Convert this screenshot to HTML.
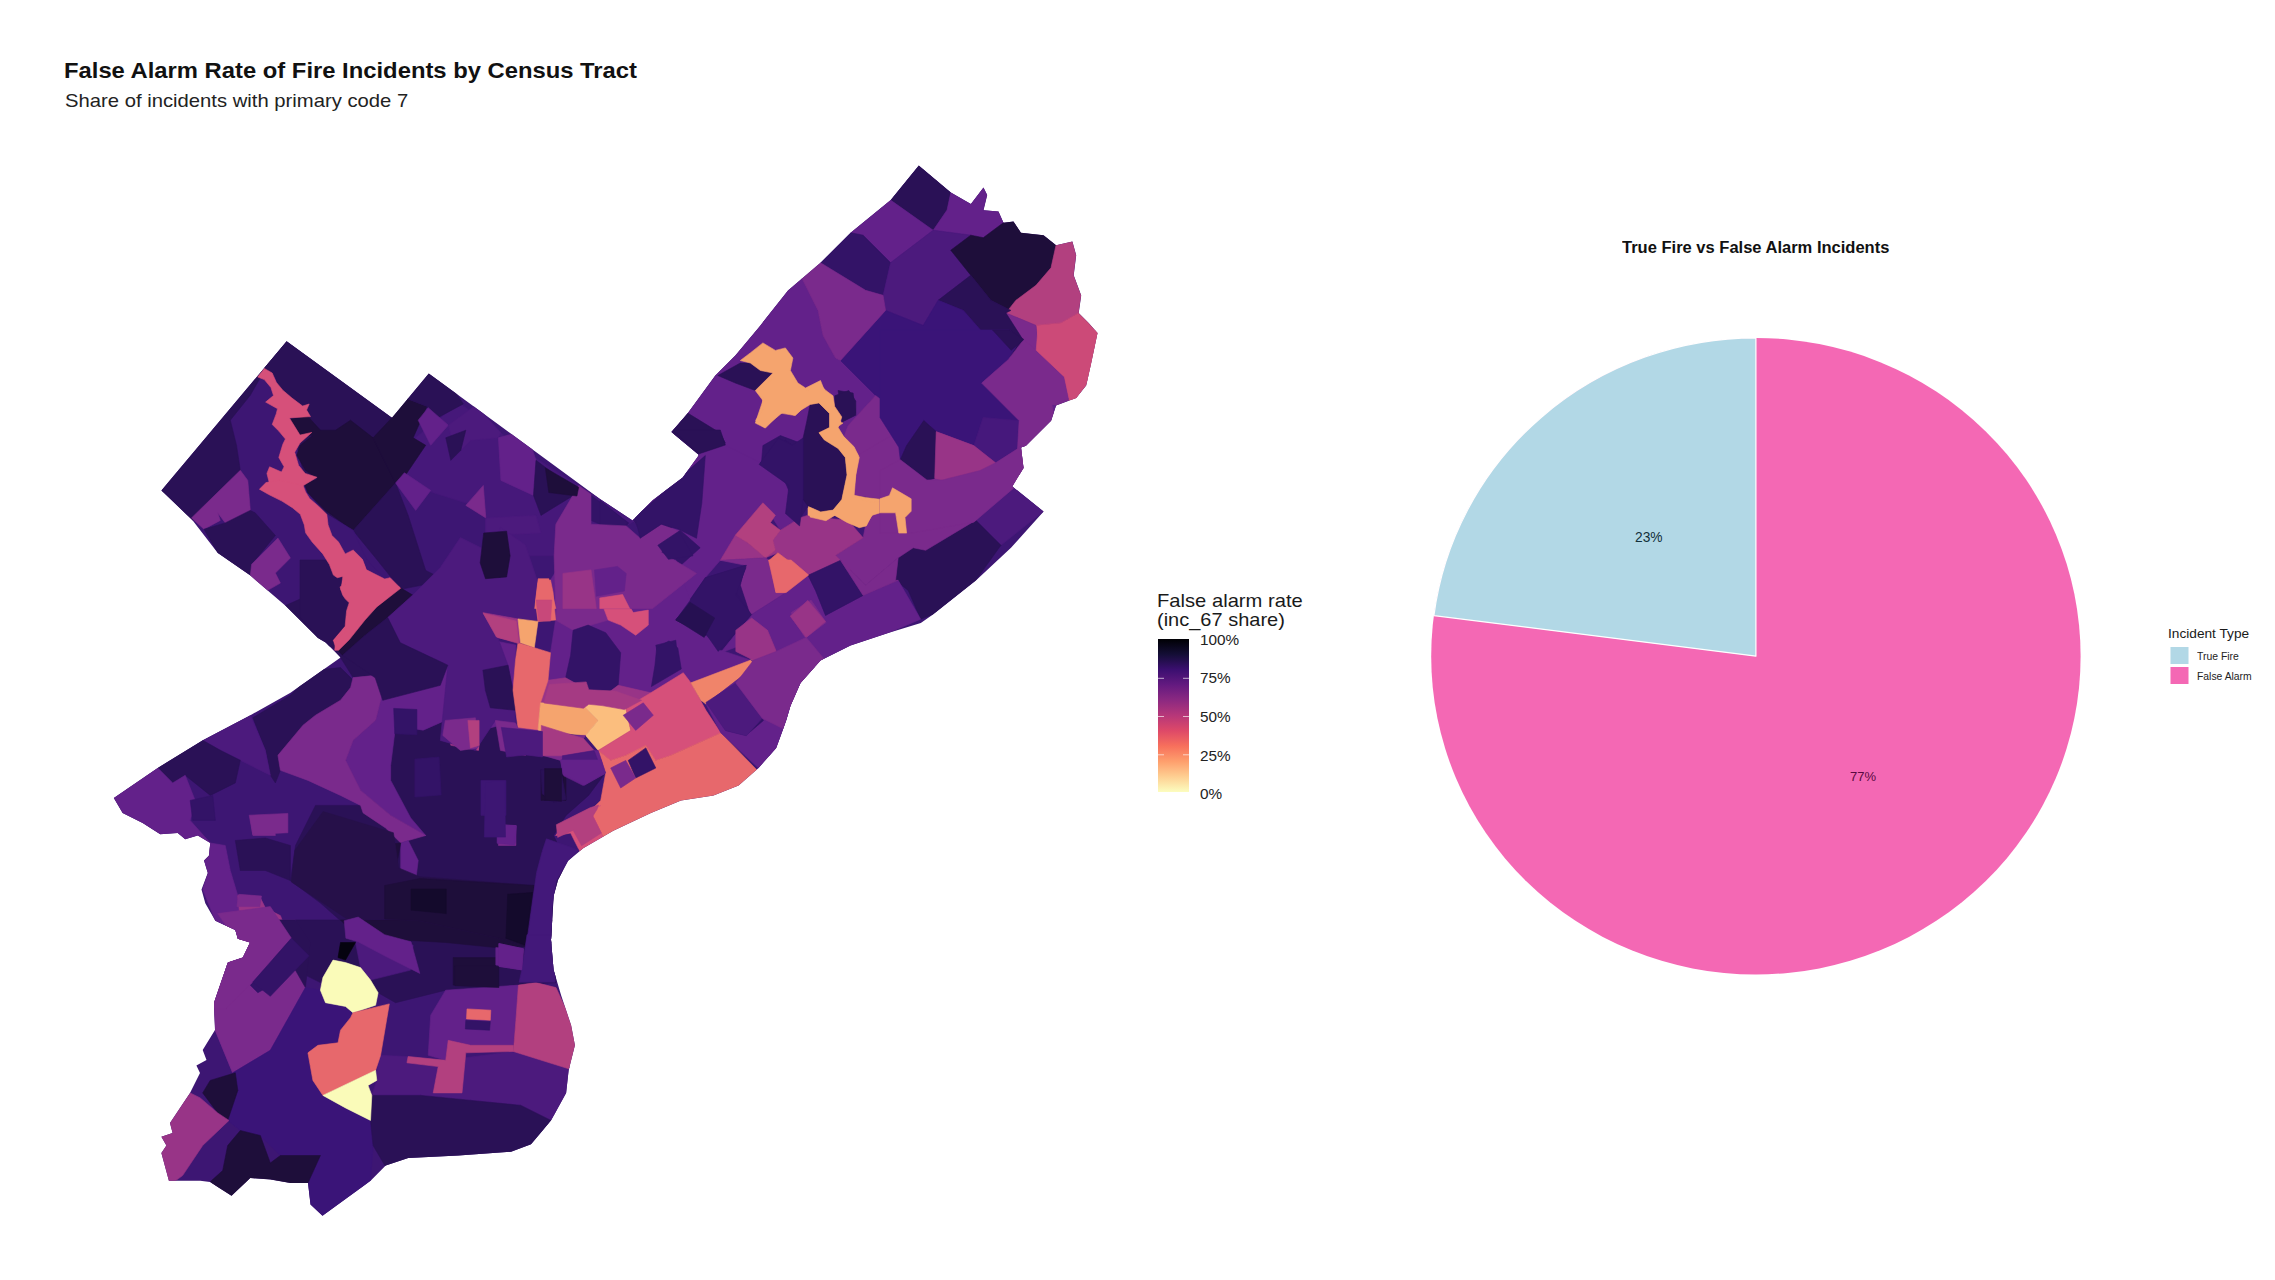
<!DOCTYPE html>
<html lang="en"><head><meta charset="utf-8"><title>False Alarm Rate of Fire Incidents by Census Tract</title>
<style>
html,body{margin:0;padding:0;background:#fff}
body{width:2275px;height:1280px;position:relative;overflow:hidden;font-family:"Liberation Sans",Arial,Helvetica,sans-serif;color:#1a1a1a}
.t{position:absolute;white-space:nowrap;line-height:1;transform-origin:0 0}
</style></head><body>
<svg width="2275" height="1280" viewBox="0 0 2275 1280" style="position:absolute;left:0;top:0">
<defs><clipPath id="city"><polygon points="286.7,341.3 392.0,417.7 428.8,373.4 600.0,499.0 632.6,520.5 652.6,500.2 682.7,477.6 699.0,455.0 671.4,432.0 687.7,413.2 715.3,375.6 735.3,355.5 760.4,325.4 788.0,290.4 820.5,262.8 850.6,232.7 890.7,200.0 918.8,165.5 950.9,192.6 970.9,203.9 983.5,187.6 987.2,195.1 983.5,210.2 998.5,211.4 1003.5,222.7 1013.5,221.4 1021.0,232.7 1043.6,235.2 1056.1,245.2 1072.4,241.5 1076.2,255.3 1073.7,275.3 1081.2,295.4 1078.7,312.9 1088.7,323.0 1097.5,333.0 1091.2,363.0 1086.2,385.6 1076.2,398.1 1056.1,405.6 1051.1,420.7 1026.0,445.7 1021.0,447.5 1023.5,468.0 1012.3,486.4 1043.6,511.5 1011.0,547.8 975.9,580.4 933.3,614.2 920.8,623.0 888.2,633.0 850.6,645.5 820.5,660.6 800.5,683.0 790.5,705.7 786.2,720.4 776.2,748.0 758.6,768.0 738.6,785.6 713.5,795.6 681.0,800.6 650.9,813.1 613.3,830.7 583.2,848.2 568.2,860.8 558.0,880.0 553.7,895.7 551.0,940.0 553.6,970.0 561.1,995.2 571.1,1025.3 574.9,1045.3 568.6,1070.4 566.1,1093.0 551.0,1120.5 531.0,1144.3 511.0,1151.8 458.3,1155.6 408.2,1158.0 385.7,1165.6 370.6,1180.7 322.5,1215.7 310.5,1204.5 308.0,1183.0 290.4,1183.0 270.4,1179.4 250.3,1178.0 231.5,1195.7 210.0,1182.0 200.2,1180.7 168.9,1180.7 161.4,1153.0 166.4,1145.6 161.4,1136.8 172.6,1133.0 170.0,1123.0 190.0,1093.0 200.0,1073.0 196.4,1065.4 206.5,1060.0 202.7,1050.0 215.0,1030.0 214.0,1002.7 227.8,962.6 242.8,957.6 250.0,942.6 237.8,938.8 235.3,930.0 215.3,920.8 205.3,903.2 201.5,889.4 207.8,873.1 204.0,860.6 209.0,855.6 210.3,843.0 197.8,835.5 185.2,839.3 177.7,833.0 160.2,834.3 142.6,823.0 122.6,813.0 113.8,798.0 157.7,767.9 202.8,740.3 250.4,715.2 290.5,692.7 340.6,657.6 325.6,642.6 318.0,638.0 285.5,605.7 250.4,575.6 217.8,553.0 192.7,520.5 161.4,490.4"/></clipPath>
<linearGradient id="mg" x1="0" y1="0" x2="0" y2="1">
<stop offset="0%" stop-color="#000004"/>
<stop offset="10%" stop-color="#140E36"/>
<stop offset="20%" stop-color="#3B0F70"/>
<stop offset="30%" stop-color="#641A80"/>
<stop offset="40%" stop-color="#8C2981"/>
<stop offset="50%" stop-color="#B73779"/>
<stop offset="60%" stop-color="#DE4968"/>
<stop offset="70%" stop-color="#F7705C"/>
<stop offset="80%" stop-color="#FE9F6D"/>
<stop offset="90%" stop-color="#FECF92"/>
<stop offset="100%" stop-color="#FCFDBF"/>
</linearGradient></defs>
<polygon points="286.7,341.3 392.0,417.7 428.8,373.4 600.0,499.0 632.6,520.5 652.6,500.2 682.7,477.6 699.0,455.0 671.4,432.0 687.7,413.2 715.3,375.6 735.3,355.5 760.4,325.4 788.0,290.4 820.5,262.8 850.6,232.7 890.7,200.0 918.8,165.5 950.9,192.6 970.9,203.9 983.5,187.6 987.2,195.1 983.5,210.2 998.5,211.4 1003.5,222.7 1013.5,221.4 1021.0,232.7 1043.6,235.2 1056.1,245.2 1072.4,241.5 1076.2,255.3 1073.7,275.3 1081.2,295.4 1078.7,312.9 1088.7,323.0 1097.5,333.0 1091.2,363.0 1086.2,385.6 1076.2,398.1 1056.1,405.6 1051.1,420.7 1026.0,445.7 1021.0,447.5 1023.5,468.0 1012.3,486.4 1043.6,511.5 1011.0,547.8 975.9,580.4 933.3,614.2 920.8,623.0 888.2,633.0 850.6,645.5 820.5,660.6 800.5,683.0 790.5,705.7 786.2,720.4 776.2,748.0 758.6,768.0 738.6,785.6 713.5,795.6 681.0,800.6 650.9,813.1 613.3,830.7 583.2,848.2 568.2,860.8 558.0,880.0 553.7,895.7 551.0,940.0 553.6,970.0 561.1,995.2 571.1,1025.3 574.9,1045.3 568.6,1070.4 566.1,1093.0 551.0,1120.5 531.0,1144.3 511.0,1151.8 458.3,1155.6 408.2,1158.0 385.7,1165.6 370.6,1180.7 322.5,1215.7 310.5,1204.5 308.0,1183.0 290.4,1183.0 270.4,1179.4 250.3,1178.0 231.5,1195.7 210.0,1182.0 200.2,1180.7 168.9,1180.7 161.4,1153.0 166.4,1145.6 161.4,1136.8 172.6,1133.0 170.0,1123.0 190.0,1093.0 200.0,1073.0 196.4,1065.4 206.5,1060.0 202.7,1050.0 215.0,1030.0 214.0,1002.7 227.8,962.6 242.8,957.6 250.0,942.6 237.8,938.8 235.3,930.0 215.3,920.8 205.3,903.2 201.5,889.4 207.8,873.1 204.0,860.6 209.0,855.6 210.3,843.0 197.8,835.5 185.2,839.3 177.7,833.0 160.2,834.3 142.6,823.0 122.6,813.0 113.8,798.0 157.7,767.9 202.8,740.3 250.4,715.2 290.5,692.7 340.6,657.6 325.6,642.6 318.0,638.0 285.5,605.7 250.4,575.6 217.8,553.0 192.7,520.5 161.4,490.4" fill="#3D1673"/>
<g clip-path="url(#city)" stroke-linejoin="round">
<polygon points="415.2,438.0 459.1,402.9 534.7,457.4 578.7,485.5 634.9,520.7 626.2,525.9 555.8,524.2 554.1,555.8 485.5,555.8 485.5,517.1 466.2,503.1 432.7,492.5 397.6,478.5" fill="#46187A" stroke="#46187A" stroke-width="0.6"/>
<polygon points="286.7,341.3 260.4,365.1 161.4,490.4 192.7,520.4 240.3,470.3 236.5,445.3 230.3,420.2 250.3,395.2 260.4,377.6" fill="#2A1156" stroke="#2A1156" stroke-width="0.6"/>
<polygon points="286.7,341.3 391.9,417.7 404.4,430.2 395.6,482.9 353.1,530.5 325.5,512.9 308.0,492.9 290.4,416.5 275.4,377.6 264.1,367.6" fill="#2A1156" stroke="#2A1156" stroke-width="0.6"/>
<polygon points="290.4,419.0 308.0,416.5 320.5,430.2 335.5,430.2 350.5,420.2 373.1,437.8 395.6,482.9 353.1,530.5 325.5,510.4 308.0,492.9 304.2,484.1 318.0,479.1 305.5,470.3 296.7,455.3 300.4,445.3 313.0,435.3 300.4,435.3" fill="#1E0E3A" stroke="#1E0E3A" stroke-width="0.6"/>
<polygon points="391.9,417.7 404.4,397.7 427.0,406.4 413.2,437.8 425.7,445.3 401.9,480.4 395.6,482.9 373.1,437.8" fill="#1E0E3A" stroke="#1E0E3A" stroke-width="0.6"/>
<polygon points="428.7,373.4 404.4,397.7 427.0,406.4 433.2,420.2 463.3,403.9 455.8,392.7" fill="#2A1156" stroke="#2A1156" stroke-width="0.6"/>
<polygon points="191.5,517.9 240.3,470.3 247.8,480.4 250.3,510.4 225.3,522.9 217.8,512.9 220.3,520.4 204.0,529.2" fill="#7A2A8C" stroke="#7A2A8C" stroke-width="0.6"/>
<polygon points="204.0,529.2 225.3,522.9 250.3,510.4 255.3,512.9 275.4,535.5 252.8,563.0 250.3,575.6 217.8,553.0" fill="#2A1156" stroke="#2A1156" stroke-width="0.6"/>
<polygon points="251.6,564.3 277.9,538.0 290.4,558.0 275.4,573.1 280.4,583.1 262.9,593.1 250.3,575.6" fill="#7A2A8C" stroke="#7A2A8C" stroke-width="0.6"/>
<polygon points="285.4,605.6 308.0,595.6 325.5,603.1 340.5,590.6 350.5,603.1 343.0,620.7 338.0,640.0 350.5,645.7 318.0,638.2" fill="#2A1156" stroke="#2A1156" stroke-width="0.6"/>
<polygon points="353.1,530.5 395.6,482.9 408.2,515.4 425.7,570.5 445.8,580.6 400.7,589.3 375.6,558.0" fill="#2A1156" stroke="#2A1156" stroke-width="0.6"/>
<polygon points="264.3,368.4 272.2,373.0 276.2,382.2 282.8,390.2 292.0,398.1 302.6,406.0 309.2,404.0 306.6,410.0 310.5,416.6 289.4,417.9 300.0,435.1 311.8,432.4 300.0,443.0 294.7,452.2 298.6,465.4 305.2,473.4 317.1,477.3 303.9,485.2 292.0,491.8 260.3,489.2 269.6,483.9 266.9,473.4 269.6,466.8 281.5,472.0 284.1,466.8 278.8,457.5 282.8,444.3 285.4,439.0 278.8,431.1 272.2,424.5 276.2,413.9 277.5,408.7 265.6,402.1 273.5,395.5 270.9,387.5 264.3,379.6 257.7,377.0" fill="#D6507A" stroke="#D6507A" stroke-width="0.6"/>
<polygon points="360.6,628.2 375.6,608.1 399.4,589.3 410.7,598.1 383.1,615.6 365.6,640.0 350.5,640.0" fill="#1E0E3A" stroke="#1E0E3A" stroke-width="0.6"/>
<polygon points="418.2,420.2 428.2,407.7 448.3,425.2 430.7,445.3" fill="#63218A" stroke="#63218A" stroke-width="0.6"/>
<polygon points="448.3,425.2 475.8,405.2 500.9,432.7 498.4,437.8 470.8,440.3 455.8,455.3" fill="#4C1A7D" stroke="#4C1A7D" stroke-width="0.6"/>
<polygon points="445.8,437.8 465.8,430.2 460.8,450.3 450.8,460.3" fill="#2A1156" stroke="#2A1156" stroke-width="0.6"/>
<polygon points="498.4,437.8 525.9,430.2 536.0,460.3 533.5,495.4 500.9,480.4" fill="#63218A" stroke="#63218A" stroke-width="0.6"/>
<polygon points="536.0,460.3 576.0,490.4 573.5,495.4 541.0,515.4 533.5,495.4" fill="#2A1156" stroke="#2A1156" stroke-width="0.6"/>
<polygon points="395.6,482.9 404.4,472.8 430.7,490.4 415.7,510.4" fill="#63218A" stroke="#63218A" stroke-width="0.6"/>
<polygon points="465.8,505.4 483.3,485.4 485.8,517.9" fill="#7A2A8C" stroke="#7A2A8C" stroke-width="0.6"/>
<polygon points="485.8,517.9 536.0,515.4 541.0,533.0 485.8,535.5" fill="#4C1A7D" stroke="#4C1A7D" stroke-width="0.6"/>
<polygon points="485.8,535.5 505.9,531.7 510.9,553.0 505.9,575.6 485.8,579.3 480.8,563.0" fill="#1E0E3A" stroke="#1E0E3A" stroke-width="0.6"/>
<polygon points="576.0,490.4 591.1,495.4 588.6,520.4 576.0,522.9" fill="#63218A" stroke="#63218A" stroke-width="0.6"/>
<polygon points="591.1,495.4 628.7,522.9 621.1,533.0 591.1,520.4" fill="#331367" stroke="#331367" stroke-width="0.6"/>
<polygon points="671.4,431.9 687.7,413.1 715.3,375.5 735.3,355.5 760.4,325.4 787.9,290.3 800.4,275.3 818.0,310.4 823.0,335.4 835.5,358.0 840.5,360.5 850.5,370.5 875.6,395.5 848.0,425.6 840.5,445.6 855.6,453.2 858.1,475.7 700.2,475.7 699.0,456.9" fill="#63218A" stroke="#63218A" stroke-width="0.6"/>
<polygon points="918.7,165.5 950.8,192.6 947.0,210.1 933.2,230.2 890.6,200.1" fill="#2A1156" stroke="#2A1156" stroke-width="0.6"/>
<polygon points="950.8,192.6 970.8,203.9 983.3,187.6 987.1,195.1 983.3,210.1 998.4,211.4 1003.4,222.7 983.3,237.7 970.8,235.2 933.2,230.2 947.0,210.1" fill="#63218A" stroke="#63218A" stroke-width="0.6"/>
<polygon points="850.5,232.7 890.6,200.1 933.2,230.2 890.6,262.7 863.1,235.2" fill="#63218A" stroke="#63218A" stroke-width="0.6"/>
<polygon points="820.5,262.7 850.5,232.7 863.1,235.2 890.6,262.7 883.1,295.3 865.6,290.3" fill="#331367" stroke="#331367" stroke-width="0.6"/>
<polygon points="890.6,262.7 933.2,230.2 970.8,235.2 950.8,250.2 970.8,275.3 938.2,300.3 923.2,325.4 885.6,310.4 883.1,295.3" fill="#4C1A7D" stroke="#4C1A7D" stroke-width="0.6"/>
<polygon points="950.8,250.2 970.8,235.2 983.3,237.7 1003.4,222.7 1013.4,221.4 1020.9,232.7 1043.5,235.2 1056.0,245.2 1051.0,267.8 1036.0,285.3 1015.9,300.3 1010.9,310.4 990.9,300.3 970.8,275.3" fill="#1E0E3A" stroke="#1E0E3A" stroke-width="0.6"/>
<polygon points="1056.0,245.2 1072.3,241.5 1076.0,255.2 1073.5,275.3 1081.1,295.3 1078.5,312.9 1061.0,322.9 1036.0,325.4 1005.9,312.9 1015.9,300.3 1036.0,285.3 1051.0,267.8" fill="#B2407F" stroke="#B2407F" stroke-width="0.6"/>
<polygon points="1036.0,325.4 1061.0,322.9 1078.5,312.9 1088.6,322.9 1097.3,332.9 1091.1,363.0 1086.1,385.5 1076.0,398.0 1068.5,400.5 1063.5,375.5 1038.5,347.9" fill="#CC4A78" stroke="#CC4A78" stroke-width="0.6"/>
<polygon points="1005.9,312.9 1036.0,325.4 1038.5,347.9 1063.5,375.5 1068.5,400.5 1056.0,405.6 1025.9,400.5 983.3,385.5 1010.9,358.0 1023.4,340.4" fill="#7A2A8C" stroke="#7A2A8C" stroke-width="0.6"/>
<polygon points="970.8,275.3 990.9,300.3 1010.9,310.4 1005.9,312.9 1023.4,340.4 1010.9,358.0 998.4,350.4 963.3,310.4 938.2,300.3" fill="#2A1156" stroke="#2A1156" stroke-width="0.6"/>
<polygon points="840.5,360.5 885.6,310.4 923.2,325.4 938.2,300.3 963.3,310.4 998.4,350.4 1010.9,358.0 983.3,385.5 1015.9,420.6 1015.9,440.6 975.8,453.2 935.7,435.6 920.7,430.6 875.6,395.5 850.5,370.5" fill="#3A1478" stroke="#3A1478" stroke-width="0.6"/>
<polygon points="800.4,275.3 820.5,262.7 865.6,290.3 883.1,295.3 885.6,310.4 840.5,360.5 835.5,358.0 823.0,335.4 818.0,310.4" fill="#7A2A8C" stroke="#7A2A8C" stroke-width="0.6"/>
<polygon points="717.8,375.5 740.3,363.0 750.3,363.0 760.4,370.5 772.9,373.0 755.3,390.5 735.3,383.0" fill="#2A1156" stroke="#2A1156" stroke-width="0.6"/>
<polygon points="671.4,431.9 687.7,413.1 720.3,433.1 725.3,443.1 700.2,458.2" fill="#2A1156" stroke="#2A1156" stroke-width="0.6"/>
<polygon points="762.9,445.6 780.4,435.6 800.4,443.1 818.0,435.6 823.0,445.6 840.5,458.2 845.5,475.7 760.4,475.7" fill="#331367" stroke="#331367" stroke-width="0.6"/>
<polygon points="838.0,390.5 853.1,393.0 855.6,413.1 843.0,415.6" fill="#2A1156" stroke="#2A1156" stroke-width="0.6"/>
<polygon points="818.0,405.6 825.5,425.6 818.0,435.6 808.0,425.6" fill="#2A1156" stroke="#2A1156" stroke-width="0.6"/>
<polygon points="875.6,395.5 920.7,430.6 895.6,450.7 863.1,475.7 858.1,475.7 855.6,453.2 840.5,445.6 848.0,425.6" fill="#7A2A8C" stroke="#7A2A8C" stroke-width="0.6"/>
<polygon points="895.6,450.7 920.7,430.6 935.7,435.6 933.2,475.7 900.7,475.7" fill="#2A1156" stroke="#2A1156" stroke-width="0.6"/>
<polygon points="935.7,435.6 950.8,430.6 975.8,453.2 990.9,475.7 933.2,475.7" fill="#983487" stroke="#983487" stroke-width="0.6"/>
<polygon points="1015.9,420.6 1025.9,400.5 1056.0,405.6 1051.0,420.6 1025.9,445.6 1023.4,475.7 990.9,475.7 975.8,453.2 1015.9,440.6" fill="#63218A" stroke="#63218A" stroke-width="0.6"/>
<polygon points="762.9,342.9 775.4,350.4 785.4,347.9 792.9,358.0 790.4,370.5 797.9,383.0 805.5,388.0 820.5,380.5 825.5,393.0 833.0,398.0 825.5,400.5 835.5,418.1 843.0,423.1 835.5,428.1 840.5,445.6 855.6,453.2 858.1,475.7 845.5,475.7 840.5,458.2 823.0,445.6 818.0,435.6 825.5,425.6 818.0,405.6 808.0,403.1 795.4,415.6 780.4,413.1 765.4,428.1 755.3,423.1 762.9,400.5 755.3,390.5 772.9,373.0 760.4,370.5 750.3,363.0 740.3,360.5 750.3,352.9" fill="#F5A46E" stroke="#F5A46E" stroke-width="0.6"/>
<polygon points="699.0,453.8 725.3,445.0 760.4,462.6 785.4,482.6 800.4,517.7 780.4,530.2 762.9,502.7 735.3,535.2 720.3,560.3 705.2,577.8 687.7,602.9 657.6,550.3 632.6,520.2 652.6,500.2 682.7,477.6" fill="#63218A" stroke="#63218A" stroke-width="0.6"/>
<polygon points="672.7,430.0 699.0,453.8 725.3,445.0 720.3,430.0" fill="#2A1156" stroke="#2A1156" stroke-width="0.6"/>
<polygon points="760.4,462.6 785.4,440.0 810.5,460.1 825.5,480.1 800.4,517.7 785.4,482.6" fill="#331367" stroke="#331367" stroke-width="0.6"/>
<polygon points="810.5,460.1 840.5,450.0 846.8,472.6 843.0,492.6 830.5,505.2 808.0,507.7 825.5,480.1" fill="#2A1156" stroke="#2A1156" stroke-width="0.6"/>
<polygon points="858.1,455.1 900.7,430.0 935.7,435.0 933.2,477.6 913.2,497.6 893.1,487.6 888.1,500.2 853.1,495.1 855.6,475.1" fill="#7A2A8C" stroke="#7A2A8C" stroke-width="0.6"/>
<polygon points="900.7,430.0 935.7,435.0 925.7,480.1 903.2,457.6" fill="#2A1156" stroke="#2A1156" stroke-width="0.6"/>
<polygon points="935.7,435.0 950.8,430.0 1020.9,447.5 1023.4,467.6 1012.2,486.4 975.8,492.6 933.2,477.6" fill="#983487" stroke="#983487" stroke-width="0.6"/>
<polygon points="1012.2,486.4 1043.5,511.4 1000.9,545.3 975.8,520.2 990.9,505.2" fill="#4C1A7D" stroke="#4C1A7D" stroke-width="0.6"/>
<polygon points="898.2,557.8 913.2,547.8 925.7,550.3 975.8,520.2 1000.9,545.3 975.8,580.3 933.2,614.2 920.7,619.2 908.2,590.4 895.6,580.3" fill="#2A1156" stroke="#2A1156" stroke-width="0.6"/>
<polygon points="913.2,497.6 933.2,477.6 975.8,492.6 990.9,505.2 975.8,520.2 925.7,550.3 913.2,547.8 898.2,557.8 865.6,585.3 850.5,570.3 835.5,555.3 863.1,537.7 865.6,525.2 875.6,510.2 895.6,512.7 899.4,530.2 906.9,527.7 904.4,517.7 911.9,512.7" fill="#7A2A8C" stroke="#7A2A8C" stroke-width="0.6"/>
<polygon points="720.3,560.3 735.3,535.2 747.8,542.7 765.4,557.8 777.9,552.8 808.0,575.3 850.5,570.3 835.5,555.3 863.1,537.7 848.0,520.2 820.5,517.7 808.0,515.2 800.4,517.7 780.4,530.2 772.9,540.2 775.4,550.3 765.4,557.8" fill="#983487" stroke="#983487" stroke-width="0.6"/>
<polygon points="735.3,535.2 762.9,502.7 775.4,515.2 770.4,522.7 780.4,530.2 772.9,540.2 775.4,550.3 765.4,557.8 747.8,542.7" fill="#B2407F" stroke="#B2407F" stroke-width="0.6"/>
<polygon points="769.1,560.3 777.9,552.8 808.0,575.3 785.4,592.9 775.4,592.9" fill="#E7686C" stroke="#E7686C" stroke-width="0.6"/>
<polygon points="720.3,560.3 765.4,557.8 769.1,560.3 775.4,592.9 785.4,592.9 750.3,615.4 740.3,585.3 745.3,565.3" fill="#7A2A8C" stroke="#7A2A8C" stroke-width="0.6"/>
<polygon points="705.2,577.8 745.3,565.3 740.3,585.3 750.3,615.4 720.3,653.0 705.2,638.0 712.7,620.4 675.2,620.4 687.7,602.9" fill="#331367" stroke="#331367" stroke-width="0.6"/>
<polygon points="675.2,620.4 690.2,602.9 715.3,617.9 702.7,640.5" fill="#1E0E3A" stroke="#1E0E3A" stroke-width="0.6"/>
<polygon points="750.3,615.4 785.4,592.9 808.0,575.3 815.5,590.4 825.5,615.4 863.1,595.4 898.2,580.3 920.7,619.2 888.1,632.9 850.5,645.5 820.5,660.5 800.4,683.1 790.4,705.6 775.4,755.7 745.3,755.7 760.4,718.1 755.3,665.5 740.3,645.5 720.3,653.0" fill="#63218A" stroke="#63218A" stroke-width="0.6"/>
<polygon points="790.4,615.4 808.0,600.4 825.5,622.9 805.5,638.0" fill="#7A2A8C" stroke="#7A2A8C" stroke-width="0.6"/>
<polygon points="808.0,575.3 840.5,560.3 863.1,595.4 825.5,615.4 815.5,590.4" fill="#331367" stroke="#331367" stroke-width="0.6"/>
<polygon points="840.5,560.3 850.5,570.3 865.6,585.3 898.2,557.8 895.6,580.3 898.2,580.3 863.1,595.4" fill="#7A2A8C" stroke="#7A2A8C" stroke-width="0.6"/>
<polygon points="818.0,430.0 838.0,430.0 850.5,445.0 858.1,455.1 855.6,475.1 853.1,495.1 865.6,497.6 888.1,500.2 893.1,487.6 910.7,497.6 911.9,512.7 904.4,517.7 906.9,527.7 899.4,530.2 895.6,512.7 875.6,510.2 865.6,525.2 848.0,520.2 835.5,515.2 820.5,517.7 808.0,515.2 808.0,507.7 830.5,505.2 843.0,492.6 846.8,472.6 840.5,452.5 823.0,442.5" fill="#F5A46E" stroke="#F5A46E" stroke-width="0.6"/>
<polygon points="600.0,500.2 627.6,522.7 620.0,532.7 600.0,530.2" fill="#331367" stroke="#331367" stroke-width="0.6"/>
<polygon points="630.1,515.2 657.6,505.2 675.2,525.2 647.6,542.7" fill="#331367" stroke="#331367" stroke-width="0.6"/>
<polygon points="657.6,550.3 680.2,530.2 700.2,547.8 675.2,570.3" fill="#331367" stroke="#331367" stroke-width="0.6"/>
<polygon points="315.5,805.4 360.6,805.4 390.7,780.4 390.7,730.2 423.2,730.2 445.8,720.2 500.9,725.2 541.0,740.3 566.0,760.3 591.1,760.3 603.6,775.3 588.6,795.4 566.0,815.4 553.5,835.5 566.0,860.5 553.5,895.6 551.0,945.7 353.1,945.7 340.5,920.7 320.5,903.1 290.4,880.6 295.5,845.5" fill="#2A1156" stroke="#2A1156" stroke-width="0.6"/>
<polygon points="310.5,620.0 340.5,657.6 353.1,677.6 378.1,675.1 383.1,695.2 405.7,690.2 445.8,662.6 435.8,632.5 390.7,620.0" fill="#2A1156" stroke="#2A1156" stroke-width="0.6"/>
<polygon points="381.9,695.2 405.7,690.2 445.8,662.6 465.8,667.6 490.9,640.0 515.9,645.1 513.4,695.2 500.9,725.2 480.9,730.2 445.8,720.2 423.2,730.2 395.7,725.2 390.7,765.3 390.7,780.4 410.7,817.9 425.7,835.5 390.7,815.4 360.6,790.4 345.6,760.3 353.1,740.3 375.6,720.2" fill="#63218A" stroke="#63218A" stroke-width="0.6"/>
<polygon points="252.9,717.7 290.4,695.2 315.5,670.1 340.5,667.6 353.1,680.1 350.6,687.6 340.5,700.2 315.5,715.2 303.0,725.2 277.9,755.3 280.4,770.3 275.4,782.9 270.4,775.3 265.4,750.3" fill="#2A1156" stroke="#2A1156" stroke-width="0.6"/>
<polygon points="202.7,740.3 250.4,715.2 265.4,750.3 270.4,775.3 240.3,760.3 220.3,750.3" fill="#4C1A7D" stroke="#4C1A7D" stroke-width="0.6"/>
<polygon points="157.6,767.8 202.7,740.3 220.3,750.3 240.3,760.3 235.3,782.9 210.3,795.4 185.2,775.3 172.7,782.9" fill="#2A1156" stroke="#2A1156" stroke-width="0.6"/>
<polygon points="113.8,797.9 157.6,767.8 172.7,782.9 185.2,775.3 195.2,800.4 190.2,820.4 210.3,843.0 209.0,855.5 197.7,835.5 185.2,839.2 177.7,833.0 160.2,834.2 142.6,822.9 122.6,812.9" fill="#63218A" stroke="#63218A" stroke-width="0.6"/>
<polygon points="353.1,677.6 378.1,675.1 381.9,695.2 375.6,720.2 353.1,740.3 345.6,760.3 360.6,790.4 390.7,815.4 425.7,835.5 408.2,840.5 400.7,843.0 385.6,828.0 363.1,812.9 360.6,805.4 340.5,795.4 308.0,780.4 280.4,770.3 277.9,755.3 303.0,725.2 315.5,715.2 340.5,700.2 350.6,687.6" fill="#7A2A8C" stroke="#7A2A8C" stroke-width="0.6"/>
<polygon points="400.7,843.0 408.2,840.5 418.2,860.5 415.7,880.6 400.7,870.5" fill="#63218A" stroke="#63218A" stroke-width="0.6"/>
<polygon points="250.4,817.9 272.9,815.4 275.4,835.5 252.9,835.5" fill="#7A2A8C" stroke="#7A2A8C" stroke-width="0.6"/>
<polygon points="378.1,845.5 400.7,843.0 395.7,870.5 380.6,865.5" fill="#1E0E3A" stroke="#1E0E3A" stroke-width="0.6"/>
<polygon points="410.7,890.6 440.8,895.6 435.8,915.6 405.7,908.1" fill="#1E0E3A" stroke="#1E0E3A" stroke-width="0.6"/>
<polygon points="490.9,895.6 531.0,895.6 526.0,945.7 495.9,945.7" fill="#1E0E3A" stroke="#1E0E3A" stroke-width="0.6"/>
<polygon points="541.0,770.3 566.0,770.3 566.0,800.4 541.0,800.4" fill="#1E0E3A" stroke="#1E0E3A" stroke-width="0.6"/>
<polygon points="480.9,780.4 505.9,780.4 505.9,815.4 480.9,815.4" fill="#3D1673" stroke="#3D1673" stroke-width="0.6"/>
<polygon points="498.4,825.5 515.9,825.5 515.9,845.5 498.4,845.5" fill="#7A2A8C" stroke="#7A2A8C" stroke-width="0.6"/>
<polygon points="445.8,720.2 480.9,730.2 478.4,750.3 450.8,745.3" fill="#983487" stroke="#983487" stroke-width="0.6"/>
<polygon points="468.3,730.2 479.6,730.2 478.4,750.3 469.6,747.8" fill="#B2407F" stroke="#B2407F" stroke-width="0.6"/>
<polygon points="202.7,889.3 215.3,920.7 234.1,930.7 236.6,945.7 265.4,908.1 260.4,898.1 237.8,895.6 230.3,870.5 225.3,845.5 210.3,843.0 209.0,855.5 204.0,860.5 207.8,873.1" fill="#63218A" stroke="#63218A" stroke-width="0.6"/>
<polygon points="237.8,895.6 260.4,898.1 265.4,908.1 280.4,915.6 285.4,928.2 250.4,945.7 235.3,945.7 240.3,920.7" fill="#983487" stroke="#983487" stroke-width="0.6"/>
<polygon points="190.2,800.4 212.8,795.4 215.3,820.4 192.7,820.4" fill="#331367" stroke="#331367" stroke-width="0.6"/>
<polygon points="235.3,840.5 265.4,838.0 290.4,845.5 290.4,880.6 265.4,870.5 240.3,870.5" fill="#2A1156" stroke="#2A1156" stroke-width="0.6"/>
<polygon points="332.6,560.0 365.1,560.0 372.7,575.0 400.2,587.6 382.7,602.6 360.1,620.1 335.1,647.7 332.6,640.2 347.6,622.6 350.1,600.1 340.1,590.1 342.6,575.0" fill="#D6507A" stroke="#D6507A" stroke-width="0.6"/>
<polygon points="335.1,647.7 360.1,620.1 382.7,602.6 400.2,587.6 412.7,595.1 387.7,617.6 365.1,635.2 342.6,655.2" fill="#1E0E3A" stroke="#1E0E3A" stroke-width="0.6"/>
<polygon points="300.0,560.0 332.6,560.0 342.6,575.0 340.1,590.1 350.1,600.1 347.6,622.6 332.6,640.2 335.1,647.7 325.1,645.2 300.0,617.6" fill="#2A1156" stroke="#2A1156" stroke-width="0.6"/>
<polygon points="412.7,595.1 440.3,567.5 460.4,537.5 490.4,552.5 500.4,527.4 525.5,545.0 538.0,582.5 535.5,602.6 538.0,621.4 518.0,618.9 482.9,612.6 497.9,637.7 508.0,665.2 513.0,690.3 515.5,722.9 495.4,720.4 475.4,750.4 440.3,740.4 447.8,665.2 400.2,642.7 387.7,617.6" fill="#4C1A7D" stroke="#4C1A7D" stroke-width="0.6"/>
<polygon points="365.1,635.2 387.7,617.6 400.2,642.7 447.8,665.2 440.3,685.3 382.7,700.3 375.2,677.8 342.6,655.2" fill="#2A1156" stroke="#2A1156" stroke-width="0.6"/>
<polygon points="482.9,670.2 508.0,665.2 513.0,690.3 515.5,710.3 490.4,707.8 485.4,690.3" fill="#2A1156" stroke="#2A1156" stroke-width="0.6"/>
<polygon points="485.4,560.0 508.0,560.0 500.4,577.5 485.4,575.0" fill="#331367" stroke="#331367" stroke-width="0.6"/>
<polygon points="550.5,580.0 563.1,560.0 675.8,560.0 690.9,602.6 675.8,620.1 705.9,635.2 720.9,650.2 751.0,660.2 690.9,682.8 683.3,672.7 650.8,692.8 625.7,707.8 588.1,702.8 583.1,705.3 540.5,702.8 548.0,680.3 550.5,652.7 555.6,620.1 553.1,592.6" fill="#63218A" stroke="#63218A" stroke-width="0.6"/>
<polygon points="560.6,575.0 588.1,570.0 600.7,600.1 608.2,620.1 573.1,630.2 555.6,620.1" fill="#7A2A8C" stroke="#7A2A8C" stroke-width="0.6"/>
<polygon points="573.1,630.2 588.1,625.1 605.7,632.7 620.7,652.7 618.2,685.3 608.2,692.8 588.1,690.3 565.6,677.8 570.6,655.2" fill="#331367" stroke="#331367" stroke-width="0.6"/>
<polygon points="600.7,600.1 623.2,595.1 633.2,612.6 648.3,610.1 648.3,625.1 635.7,635.2 620.7,625.1 608.2,620.1" fill="#D6507A" stroke="#D6507A" stroke-width="0.6"/>
<polygon points="548.0,680.3 565.6,677.8 588.1,690.3 608.2,692.8 618.2,685.3 650.8,692.8 625.7,707.8 588.1,702.8 583.1,705.3 540.5,702.8" fill="#983487" stroke="#983487" stroke-width="0.6"/>
<polygon points="655.8,645.2 675.8,640.2 678.3,665.2 660.8,670.2" fill="#331367" stroke="#331367" stroke-width="0.6"/>
<polygon points="675.8,620.1 690.9,602.6 710.9,590.1 746.0,567.5 736.0,592.6 751.0,615.1 720.9,650.2 710.9,635.2" fill="#331367" stroke="#331367" stroke-width="0.6"/>
<polygon points="675.8,620.1 690.9,602.6 713.4,617.6 705.9,635.2" fill="#1E0E3A" stroke="#1E0E3A" stroke-width="0.6"/>
<polygon points="791.1,612.6 811.1,600.1 826.2,622.6 803.6,635.2" fill="#7A2A8C" stroke="#7A2A8C" stroke-width="0.6"/>
<polygon points="768.5,560.0 791.1,560.0 808.6,575.0 786.1,592.6 776.0,592.6" fill="#E7686C" stroke="#E7686C" stroke-width="0.6"/>
<polygon points="482.9,612.6 518.0,618.9 520.5,642.7 497.9,637.7" fill="#983487" stroke="#983487" stroke-width="0.6"/>
<polygon points="538.0,582.5 550.5,580.0 553.1,592.6 555.6,620.1 538.0,621.4 535.5,602.6" fill="#E7686C" stroke="#E7686C" stroke-width="0.6"/>
<polygon points="518.0,618.9 538.0,621.4 534.3,647.7 520.5,642.7" fill="#F5A46E" stroke="#F5A46E" stroke-width="0.6"/>
<polygon points="518.0,642.7 534.3,647.7 550.5,652.7 548.0,680.3 540.5,702.8 538.0,730.4 518.0,727.9 513.0,690.3 515.5,660.2" fill="#E7686C" stroke="#E7686C" stroke-width="0.6"/>
<polygon points="540.5,702.8 583.1,705.3 598.2,720.4 585.6,735.4 538.0,730.4" fill="#F5A46E" stroke="#F5A46E" stroke-width="0.6"/>
<polygon points="583.1,705.3 588.1,702.8 625.7,707.8 630.7,730.4 598.2,750.4 585.6,735.4 598.2,720.4" fill="#FBBE7E" stroke="#FBBE7E" stroke-width="0.6"/>
<polygon points="630.7,730.4 625.7,707.8 650.8,692.8 683.3,672.7 690.9,682.8 705.9,710.3 720.9,732.9 670.8,755.4 655.8,760.4 645.8,745.4 625.7,755.4 610.7,760.4 598.2,750.4" fill="#D6507A" stroke="#D6507A" stroke-width="0.6"/>
<polygon points="598.2,750.4 610.7,760.4 625.7,755.4 645.8,745.4 655.8,760.4 670.8,755.4 720.9,732.9 759.8,773.0 738.5,791.8 703.4,803.0 677.1,806.8 648.3,819.3 604.4,839.4 590.6,810.5 600.7,800.5 605.7,773.0" fill="#E7686C" stroke="#E7686C" stroke-width="0.6"/>
<polygon points="690.9,682.8 753.5,659.0 756.0,665.2 705.9,704.1 700.9,700.3" fill="#F0846A" stroke="#F0846A" stroke-width="0.6"/>
<polygon points="555.6,835.6 563.1,825.6 600.7,805.5 590.6,810.5 604.4,839.4 581.9,855.6 570.6,833.1" fill="#D6507A" stroke="#D6507A" stroke-width="0.6"/>
<polygon points="628.2,760.4 645.8,747.9 655.8,768.0 635.7,778.0" fill="#331367" stroke="#331367" stroke-width="0.6"/>
<polygon points="610.7,768.0 625.7,760.4 635.7,778.0 620.7,788.0" fill="#7A2A8C" stroke="#7A2A8C" stroke-width="0.6"/>
<polygon points="623.2,715.3 643.3,702.8 653.3,715.3 635.7,730.4" fill="#7A2A8C" stroke="#7A2A8C" stroke-width="0.6"/>
<polygon points="705.9,704.1 756.0,665.2 751.0,660.2 816.1,667.7 798.6,692.8 786.1,720.4 776.0,747.9 758.5,768.0 720.9,732.9" fill="#63218A" stroke="#63218A" stroke-width="0.6"/>
<polygon points="710.9,707.8 741.0,692.8 763.5,720.4 746.0,735.4 725.9,730.4" fill="#331367" stroke="#331367" stroke-width="0.6"/>
<polygon points="495.4,720.4 515.5,722.9 518.0,727.9 538.0,730.4 540.5,735.4 525.5,755.4 500.4,750.4" fill="#7A2A8C" stroke="#7A2A8C" stroke-width="0.6"/>
<polygon points="540.5,735.4 585.6,735.4 575.6,750.4 560.6,760.4 543.0,755.4" fill="#7A2A8C" stroke="#7A2A8C" stroke-width="0.6"/>
<polygon points="560.6,760.4 575.6,750.4 598.2,750.4 605.7,773.0 583.1,785.5 563.1,775.5" fill="#63218A" stroke="#63218A" stroke-width="0.6"/>
<polygon points="445.3,720.4 475.4,717.8 477.9,747.9 460.4,750.4 442.8,735.4" fill="#7A2A8C" stroke="#7A2A8C" stroke-width="0.6"/>
<polygon points="467.9,720.4 479.1,720.4 479.1,745.4 470.4,747.9" fill="#B2407F" stroke="#B2407F" stroke-width="0.6"/>
<polygon points="543.0,770.5 563.1,775.5 563.1,798.0 543.0,795.5" fill="#1E0E3A" stroke="#1E0E3A" stroke-width="0.6"/>
<polygon points="497.9,825.6 515.5,825.6 515.5,843.1 497.9,843.1" fill="#63218A" stroke="#63218A" stroke-width="0.6"/>
<polygon points="295.4,920.0 556.0,920.0 556.0,982.6 518.4,985.1 445.7,990.2 395.6,1002.7 378.1,992.7 370.5,980.1 360.5,967.6 345.5,962.6 333.0,960.1 320.4,982.6 295.4,970.1" fill="#2A1156" stroke="#2A1156" stroke-width="0.6"/>
<polygon points="340.5,920.0 550.9,920.0 550.9,945.1 495.8,947.6 445.7,942.5 358.0,937.5" fill="#1E0E3A" stroke="#1E0E3A" stroke-width="0.6"/>
<polygon points="453.2,957.6 495.8,957.6 495.8,985.1 453.2,985.1" fill="#1E0E3A" stroke="#1E0E3A" stroke-width="0.6"/>
<polygon points="358.0,940.0 413.1,945.1 410.6,970.1 370.5,980.1 360.5,967.6 355.5,942.5" fill="#4C1A7D" stroke="#4C1A7D" stroke-width="0.6"/>
<polygon points="215.2,920.0 295.4,920.0 295.4,970.1 305.4,987.6 270.3,1050.3 232.7,1072.8 215.2,1030.2 214.0,1002.7 227.7,962.6 242.8,957.6 250.3,942.5 237.8,938.8 235.3,930.0" fill="#63218A" stroke="#63218A" stroke-width="0.6"/>
<polygon points="225.2,965.1 250.3,945.1 275.3,970.1 295.4,970.1 305.4,987.6 270.3,1050.3 232.7,1072.8 215.2,1030.2 214.0,1002.7" fill="#7A2A8C" stroke="#7A2A8C" stroke-width="0.6"/>
<polygon points="245.3,980.1 272.8,965.1 285.4,977.6 257.8,992.7" fill="#331367" stroke="#331367" stroke-width="0.6"/>
<polygon points="265.3,920.0 295.4,920.0 310.4,942.5 305.4,987.6 295.4,970.1 275.3,970.1" fill="#2A1156" stroke="#2A1156" stroke-width="0.6"/>
<polygon points="270.3,1050.3 305.4,987.6 320.4,990.2 325.5,1002.7 345.5,1006.4 353.0,1012.7 350.5,1017.7 340.5,1030.2 338.0,1042.8 317.9,1045.3 307.9,1052.8 312.9,1080.4 322.9,1095.4 345.5,1107.9 370.5,1120.4 373.1,1145.5 370.5,1180.6 322.4,1220.7 310.4,1204.4 307.9,1183.1 320.4,1155.5 280.4,1155.5 260.3,1135.5 240.3,1130.5 227.7,1120.4 237.8,1090.4 232.7,1072.8" fill="#3A1478" stroke="#3A1478" stroke-width="0.6"/>
<polygon points="202.7,1092.9 210.2,1080.4 235.3,1072.8 237.8,1090.4 227.7,1120.4 217.7,1112.9" fill="#1E0E3A" stroke="#1E0E3A" stroke-width="0.6"/>
<polygon points="210.2,1181.8 231.5,1198.1 250.3,1178.1 270.3,1179.3 290.4,1183.1 307.9,1183.1 320.4,1155.5 280.4,1155.5 270.3,1163.0 260.3,1135.5 240.3,1130.5 227.7,1145.5 222.7,1170.5" fill="#1E0E3A" stroke="#1E0E3A" stroke-width="0.6"/>
<polygon points="190.2,1092.9 200.2,1097.9 217.7,1112.9 229.0,1120.4 202.7,1145.5 182.6,1175.6 168.9,1185.6 155.1,1155.5 157.6,1135.5 170.1,1120.4" fill="#983487" stroke="#983487" stroke-width="0.6"/>
<polygon points="378.1,1055.3 408.1,1056.5 445.7,1060.3 513.4,1051.5 571.0,1067.8 568.5,1092.9 550.9,1120.4 520.9,1105.4 470.8,1100.4 420.7,1095.4 371.8,1095.4 376.8,1080.4" fill="#4C1A7D" stroke="#4C1A7D" stroke-width="0.6"/>
<polygon points="370.5,1120.4 371.8,1095.4 420.7,1095.4 470.8,1100.4 520.9,1105.4 550.9,1120.4 530.9,1145.5 510.9,1153.0 458.2,1156.8 408.1,1159.3 385.6,1166.8 373.1,1145.5" fill="#2A1156" stroke="#2A1156" stroke-width="0.6"/>
<polygon points="445.7,990.2 518.4,985.1 515.9,1020.2 513.4,1045.3 470.8,1045.3 448.2,1040.3 445.7,1060.3 428.2,1055.3 430.7,1015.2" fill="#63218A" stroke="#63218A" stroke-width="0.6"/>
<polygon points="518.4,985.1 535.9,982.6 556.0,987.6 571.0,1020.2 578.5,1045.3 573.5,1070.3 513.4,1051.5 515.9,1020.2" fill="#B2407F" stroke="#B2407F" stroke-width="0.6"/>
<polygon points="408.1,1056.5 445.7,1060.3 448.2,1040.3 470.8,1045.3 513.4,1045.3 513.4,1051.5 465.8,1052.8 462.0,1092.9 433.2,1092.9 438.2,1066.6 406.9,1062.8" fill="#B2407F" stroke="#B2407F" stroke-width="0.6"/>
<polygon points="467.0,1008.9 490.8,1010.2 490.3,1020.2 466.5,1019.0" fill="#E7686C" stroke="#E7686C" stroke-width="0.6"/>
<polygon points="465.8,1020.2 490.3,1021.5 489.6,1030.2 465.3,1029.0" fill="#331367" stroke="#331367" stroke-width="0.6"/>
<polygon points="495.8,947.6 520.9,950.1 520.9,967.6 495.8,965.1" fill="#63218A" stroke="#63218A" stroke-width="0.6"/>
<polygon points="340.5,942.5 355.5,942.5 345.5,960.1 338.0,957.6" fill="#05030F" stroke="#05030F" stroke-width="0.6"/>
<polygon points="333.0,960.1 345.5,962.6 360.5,967.6 370.5,980.1 378.1,992.7 375.6,1005.2 353.0,1012.7 345.5,1006.4 325.5,1002.7 320.4,990.2 322.9,977.6" fill="#FAFBB9" stroke="#FAFBB9" stroke-width="0.6"/>
<polygon points="353.0,1012.7 389.3,1003.9 380.6,1055.3 375.6,1070.3 322.9,1095.4 312.9,1080.4 307.9,1052.8 317.9,1045.3 338.0,1042.8 340.5,1030.2 350.5,1017.7" fill="#E7686C" stroke="#E7686C" stroke-width="0.6"/>
<polygon points="322.9,1095.4 375.6,1070.3 376.8,1080.4 368.0,1085.4 371.8,1095.4 370.5,1120.4 345.5,1107.9" fill="#FAFBB9" stroke="#FAFBB9" stroke-width="0.6"/>
<polygon points="323.1,811.6 393.4,832.7 398.7,867.9 419.8,876.7 534.1,885.5 525.3,947.0 498.9,938.2 419.8,920.7 384.6,918.9 349.5,920.7 323.1,903.1 291.4,882.0 294.9,850.3" fill="#261049" stroke="#261049" stroke-width="0.6"/>
<polygon points="411.0,889.0 446.2,889.0 446.2,913.6 411.0,910.1" fill="#140A2C" stroke="#140A2C" stroke-width="0.6"/>
<polygon points="507.7,894.3 532.3,892.5 525.3,945.3 505.9,938.2" fill="#140A2C" stroke="#140A2C" stroke-width="0.6"/>
<polygon points="344.2,920.7 358.2,917.1 384.6,934.7 411.0,941.8 419.8,973.4 384.6,955.8 358.2,941.8 345.9,938.2" fill="#63218A" stroke="#63218A" stroke-width="0.6"/>
<polygon points="249.2,815.2 287.9,813.4 287.9,832.7 252.7,834.5" fill="#7A2A8C" stroke="#7A2A8C" stroke-width="0.6"/>
<polygon points="497.1,824.0 516.5,825.7 514.7,845.1 497.1,843.3" fill="#63218A" stroke="#63218A" stroke-width="0.6"/>
<polygon points="238.7,894.3 261.5,896.0 259.8,906.6 236.9,906.6" fill="#7A2A8C" stroke="#7A2A8C" stroke-width="0.6"/>
<polygon points="217.6,913.6 270.3,906.6 291.4,938.2 252.7,982.2 226.4,1008.6 200.0,1008.6 200.0,955.8 235.2,938.2" fill="#7A2A8C" stroke="#7A2A8C" stroke-width="0.6"/>
<polygon points="252.7,982.2 291.4,938.2 309.0,955.8 270.3,996.3" fill="#331367" stroke="#331367" stroke-width="0.6"/>
<polygon points="498.9,943.5 523.5,948.8 521.8,969.9 498.9,966.4" fill="#63218A" stroke="#63218A" stroke-width="0.6"/>
<polygon points="454.9,966.4 498.9,966.4 498.9,987.5 454.9,985.7" fill="#1E0E3A" stroke="#1E0E3A" stroke-width="0.6"/>
<polygon points="555.8,524.2 578.7,485.5 591.0,494.3 591.0,524.2 626.2,525.9 640.2,538.2 661.3,524.2 678.9,531.2 661.3,552.3 696.5,573.4 652.5,608.6 555.8,608.6 554.1,555.8" fill="#7A2A8C" stroke="#7A2A8C" stroke-width="0.6"/>
<polygon points="634.9,517.1 678.9,478.5 705.3,455.6 701.8,503.1 696.5,538.2 678.9,529.5 661.3,524.2 640.2,538.2" fill="#331367" stroke="#331367" stroke-width="0.6"/>
<polygon points="657.8,545.3 678.9,531.2 693.0,555.8 668.4,559.3" fill="#331367" stroke="#331367" stroke-width="0.6"/>
<polygon points="483.7,533.0 506.6,531.2 510.1,555.8 506.6,576.9 485.5,578.7 480.2,562.9" fill="#1E0E3A" stroke="#1E0E3A" stroke-width="0.6"/>
<polygon points="545.3,467.9 578.7,487.3 576.9,496.0 548.8,492.5" fill="#1E0E3A" stroke="#1E0E3A" stroke-width="0.6"/>
<polygon points="538.2,578.7 548.8,578.7 555.8,608.6 534.7,608.6" fill="#E7686C" stroke="#E7686C" stroke-width="0.6"/>
<polygon points="599.8,598.0 622.6,594.5 629.7,608.6 599.8,608.6" fill="#D6507A" stroke="#D6507A" stroke-width="0.6"/>
<polygon points="594.5,569.9 617.4,566.4 626.2,573.4 624.4,591.0 596.3,596.3" fill="#63218A" stroke="#63218A" stroke-width="0.6"/>
<polygon points="562.9,573.4 591.0,569.9 596.3,608.6 562.9,608.6" fill="#983487" stroke="#983487" stroke-width="0.6"/>
<polygon points="676.0,619.8 690.1,600.4 705.9,577.6 746.4,565.3 735.8,595.2 751.6,614.5 718.2,651.4 705.9,633.8" fill="#331367" stroke="#331367" stroke-width="0.6"/>
<polygon points="676.0,619.8 690.1,602.2 714.7,618.0 704.2,637.4" fill="#261052" stroke="#261052" stroke-width="0.6"/>
<polygon points="656.7,647.9 669.0,640.9 677.8,647.9 681.3,669.0 651.4,686.6 654.9,665.5" fill="#331367" stroke="#331367" stroke-width="0.6"/>
<polygon points="790.3,616.3 807.9,600.4 825.5,621.5 806.2,637.4" fill="#983487" stroke="#983487" stroke-width="0.6"/>
<polygon points="735.8,630.3 751.6,618.0 767.5,630.3 776.3,651.4 758.7,658.5 753.4,660.2 735.8,651.4" fill="#983487" stroke="#983487" stroke-width="0.6"/>
<polygon points="705.9,702.4 735.8,683.1 762.2,718.2 746.4,735.8 725.3,730.5" fill="#4C1A7D" stroke="#4C1A7D" stroke-width="0.6"/>
<polygon points="753.4,660.2 776.3,651.4 806.2,637.4 823.7,658.5 802.6,683.1 788.6,711.2 783.3,728.8 762.2,718.2 735.8,683.1" fill="#7A2A8C" stroke="#7A2A8C" stroke-width="0.6"/>
<polygon points="803.1,438.0 806.6,422.2 810.1,404.6 818.9,402.9 829.5,413.4 829.5,427.5 818.9,432.7 824.2,439.8 838.2,448.6 845.3,457.4 847.0,474.9 841.8,499.6 833.0,510.1 820.7,511.9 808.4,506.6 803.1,499.6" fill="#2A1156" stroke="#2A1156" stroke-width="0.6"/>
<polygon points="759.1,464.4 778.5,438.0 792.5,445.1 803.1,438.0 803.1,499.6 799.6,525.9 785.5,513.6 789.0,485.5" fill="#331367" stroke="#331367" stroke-width="0.6"/>
<polygon points="834.7,395.8 848.8,390.5 855.8,401.1 855.8,415.2 841.8,422.2 841.8,416.9 834.7,406.4" fill="#2A1156" stroke="#2A1156" stroke-width="0.6"/>
<polygon points="757.4,390.5 771.4,380.0 794.3,380.0 799.6,387.0 808.4,390.5 818.9,383.5 825.9,390.5 833.0,395.8 834.7,406.4 841.8,416.9 838.2,427.5 843.5,436.3 854.1,446.8 859.3,457.4 855.8,474.9 854.1,496.0 866.4,501.3 889.2,503.1 892.7,487.3 908.6,497.8 912.1,510.1 905.1,518.9 906.8,529.5 899.8,531.2 896.3,513.6 889.2,510.1 871.6,515.4 866.4,525.9 859.3,527.7 847.0,522.4 834.7,515.4 825.9,520.7 810.1,517.1 808.4,506.6 820.7,511.9 833.0,510.1 841.8,499.6 847.0,474.9 845.3,457.4 838.2,448.6 824.2,439.8 818.9,432.7 829.5,427.5 829.5,413.4 818.9,402.9 810.1,404.6 801.3,409.9 794.3,415.2 783.7,411.6 764.4,427.5 755.6,420.4 762.6,409.9 762.6,397.6" fill="#F5A46E" stroke="#F5A46E" stroke-width="0.6"/>
<polygon points="384.6,885.5 419.8,878.5 534.1,885.5 525.3,947.0 498.9,938.2 419.8,920.7 384.6,918.9" fill="#1E0E3A" stroke="#1E0E3A" stroke-width="0.6"/>
<polygon points="411.0,889.0 446.2,889.0 446.2,913.6 411.0,910.1" fill="#140A2C" stroke="#140A2C" stroke-width="0.6"/>
<polygon points="507.7,894.3 532.3,892.5 525.3,945.3 505.9,938.2" fill="#140A2C" stroke="#140A2C" stroke-width="0.6"/>
<polygon points="536.0,600.0 551.9,600.0 550.5,621.1 538.7,621.1" fill="#C8487A" stroke="#C8487A" stroke-width="0.6"/>
<polygon points="549.2,684.5 586.2,681.9 588.8,689.8 615.2,691.1 641.6,700.3 624.5,709.6 602.0,705.6 588.8,704.3 583.5,708.3 543.9,703.0" fill="#A53A83" stroke="#A53A83" stroke-width="0.6"/>
<polygon points="541.3,725.4 583.5,738.6 594.1,750.5 562.4,755.8 541.3,755.8" fill="#A53A83" stroke="#A53A83" stroke-width="0.6"/>
<polygon points="562.4,755.8 594.1,750.5 602.0,771.6 562.4,771.6" fill="#4C1A7D" stroke="#4C1A7D" stroke-width="0.6"/>
<polygon points="483.2,613.2 516.2,621.1 518.9,643.6 496.4,637.0" fill="#B2407F" stroke="#B2407F" stroke-width="0.6"/>
<polygon points="546.4,838.8 578.8,850.0 567.5,861.3 556.3,881.0 552.0,907.7 552.0,942.9 526.7,942.9 536.6,872.5 542.2,851.4" fill="#43187A" stroke="#43187A" stroke-width="0.6"/>
<polygon points="556.3,824.7 573.1,816.3 590.0,807.8 598.5,805.0 597.1,809.2 592.8,816.3 601.3,833.1 581.6,845.8 573.1,830.3 557.7,837.4" fill="#B2407F" stroke="#B2407F" stroke-width="0.6"/>
<polygon points="540.8,769.8 560.5,768.4 566.1,799.4 553.5,802.2 542.2,793.8" fill="#2A1156" stroke="#2A1156" stroke-width="0.6"/>
<polygon points="560.5,760.0 601.3,760.0 604.1,774.1 584.4,785.3 563.3,774.1" fill="#63218A" stroke="#63218A" stroke-width="0.6"/>
<polygon points="326.8,514.3 353.2,530.2 366.4,559.2 384.8,579.0 366.4,569.8 362.4,559.2 353.2,550.0 345.2,553.9 338.6,542.1 332.0,535.5 328.1,524.9" fill="#3D1673" stroke="#3D1673" stroke-width="0.6"/>
<polygon points="259.4,489.2 268.7,494.5 281.9,501.1 292.4,507.7 300.3,514.3 304.3,524.9 305.6,532.8 312.2,542.1 322.8,553.9 329.4,564.5 333.4,575.1 337.3,577.7 342.6,576.4 345.2,584.3 340.0,586.9 342.6,594.9 345.2,598.8 349.2,602.8 346.6,610.7 345.2,625.2 346.6,631.8 336.0,638.4 334.7,650.3 338.6,650.3 349.2,639.8 365.0,620.0 376.9,606.8 400.7,588.3 390.1,577.7 384.8,579.0 366.4,569.8 362.4,559.2 353.2,550.0 345.2,553.9 338.6,542.1 332.0,535.5 328.1,524.9 326.8,514.3 318.8,506.4 309.6,498.5 305.6,491.9 303.0,485.3 279.2,480.0 266.0,482.6" fill="#D6507A" stroke="#D6507A" stroke-width="0.6"/>
<polygon points="527.0,934.7 553.4,934.7 555.2,982.2 519.1,982.2 521.8,969.9" fill="#43187A" stroke="#43187A" stroke-width="0.6"/>
<polygon points="498.9,943.5 523.5,948.8 521.8,969.9 498.9,966.4" fill="#63218A" stroke="#63218A" stroke-width="0.6"/>
<polygon points="485.5,782.3 504.5,781.2 505.5,837.1 484.4,837.1" fill="#3D1673" stroke="#3D1673" stroke-width="0.6"/>
<polygon points="501.3,727.4 542.5,731.6 542.5,757.0 525.6,754.9 506.6,757.0" fill="#4C1A7D" stroke="#4C1A7D" stroke-width="0.6"/>
<polygon points="393.7,708.4 416.9,709.5 416.9,734.8 394.8,733.8" fill="#331367" stroke="#331367" stroke-width="0.6"/>
<polygon points="414.8,759.1 439.1,757.0 441.2,794.9 414.8,797.1" fill="#331367" stroke="#331367" stroke-width="0.6"/>
<polygon points="544.6,768.6 561.5,768.6 561.5,801.3 544.6,800.2" fill="#1E0E3A" stroke="#1E0E3A" stroke-width="0.6"/>
<polygon points="880.0,330.0 1009.7,330.0 1020.6,339.4 1008.1,359.7 981.6,383.1 1009.7,411.2 1019.1,420.6 1017.5,448.8 995.6,462.8 973.8,445.6 936.2,431.6 934.7,478.4 926.9,480.0 900.3,459.7 898.8,447.2 880.0,417.5" fill="#3A1478" stroke="#3A1478" stroke-width="0.6"/>
<polygon points="973.8,445.6 995.6,462.8 1017.5,448.8 1019.1,420.6 983.1,417.5" fill="#46187C" stroke="#46187C" stroke-width="0.6"/>
<polygon points="923.8,420.6 936.2,431.6 934.7,478.4 926.9,480.0 900.3,459.7 906.6,445.6" fill="#2A1156" stroke="#2A1156" stroke-width="0.6"/>
<polygon points="981.6,383.1 1008.1,359.7 1023.8,339.4 1036.2,350.3 1064.4,376.9 1069.1,398.8 1051.9,405.0 1055.0,420.6 1031.6,442.5 1020.6,448.8 1017.5,448.8 1019.1,420.6 1009.7,411.2" fill="#7A2A8C" stroke="#7A2A8C" stroke-width="0.6"/>
<polygon points="992.5,330.0 1009.7,330.0 1023.8,339.4 1011.2,350.3" fill="#2A1156" stroke="#2A1156" stroke-width="0.6"/>
<polygon points="936.2,431.6 973.8,445.6 995.6,462.8 980.0,470.6 942.5,480.0 934.7,478.4" fill="#983487" stroke="#983487" stroke-width="0.6"/>
<polygon points="942.5,480.0 980.0,470.6 995.6,462.8 1017.5,448.8 1020.6,445.6 1026.9,464.4 1015.9,486.2 973.8,522.2 911.2,533.1 880.0,533.1 880.0,470.6 900.3,459.7 926.9,480.0" fill="#7A2A8C" stroke="#7A2A8C" stroke-width="0.6"/>
<polygon points="880.0,498.8 889.4,495.6 892.5,487.8 911.2,498.8 911.2,511.2 905.0,517.5 906.6,533.1 898.8,533.1 895.6,512.8 880.0,512.8" fill="#F5A46E" stroke="#F5A46E" stroke-width="0.6"/>
<polygon points="1036.2,350.3 1037.8,330.0 1098.8,330.0 1094.1,353.4 1090.9,375.3 1075.3,400.3 1069.1,398.8 1064.4,376.9" fill="#CC4A78" stroke="#CC4A78" stroke-width="0.6"/>
</g>
<rect x="1158" y="639" width="31" height="153" fill="url(#mg)"/>
<path d="M1158 678.3h6M1183 678.3h6" stroke="#fff" stroke-width="0.8" opacity="0.8"/>
<path d="M1158 716.5h6M1183 716.5h6" stroke="#fff" stroke-width="0.8" opacity="0.8"/>
<path d="M1158 754.8h6M1183 754.8h6" stroke="#fff" stroke-width="0.8" opacity="0.8"/>
<ellipse cx="1755.9" cy="656.2" rx="324.7" ry="318.3" fill="#F468B4"/>
<path d="M1755.9 656.2 L1755.9 337.9 A324.7 318.3 0 0 0 1433.9 615.6 Z" fill="#B2D8E6" stroke="#fff" stroke-width="1.2" stroke-linejoin="round"/>
<rect x="2170.5" y="647" width="18" height="17" fill="#B2D8E6"/>
<rect x="2170.5" y="667" width="18" height="17" fill="#F468B4"/>
</svg>
<div class="t" id="title" style="left:64.21px;top:59.95px;font-size:21.80px;font-weight:bold;color:#111;transform:scaleX(1.0916)">False Alarm Rate of Fire Incidents by Census Tract</div>
<div class="t" id="sub" style="left:65.30px;top:92.02px;font-size:18.40px;font-weight:normal;color:#222;transform:scaleX(1.1010)">Share of incidents with primary code 7</div>
<div class="t" id="lt1" style="left:1157.34px;top:590.62px;font-size:19.00px;font-weight:normal;color:#1a1a1a;transform:scaleX(1.0619)">False alarm rate</div>
<div class="t" id="lt2" style="left:1157.35px;top:610.02px;font-size:19.00px;font-weight:normal;color:#1a1a1a;transform:scaleX(1.0531)">(inc_67 share)</div>
<div class="t" id="l100" style="left:1199.72px;top:632.88px;font-size:14.20px;font-weight:normal;color:#222;transform:scaleX(1.0793)">100%</div>
<div class="t" id="l75" style="left:1200.00px;top:671.38px;font-size:14.20px;font-weight:normal;color:#222;transform:scaleX(1.0790)">75%</div>
<div class="t" id="l50" style="left:1200.00px;top:709.78px;font-size:14.20px;font-weight:normal;color:#222;transform:scaleX(1.0790)">50%</div>
<div class="t" id="l25" style="left:1200.00px;top:748.58px;font-size:14.20px;font-weight:normal;color:#222;transform:scaleX(1.0790)">25%</div>
<div class="t" id="l0" style="left:1200.00px;top:786.78px;font-size:14.20px;font-weight:normal;color:#222;transform:scaleX(1.0790)">0%</div>
<div class="t" id="ptitle" style="left:1622.10px;top:240.36px;font-size:16.00px;font-weight:bold;color:#111;transform:scaleX(1.0321)">True Fire vs False Alarm Incidents</div>
<div class="t" id="p23" style="left:1634.90px;top:530.15px;font-size:14.00px;font-weight:normal;color:#12303b;transform:scaleX(0.9829)">23%</div>
<div class="t" id="p77" style="left:1850.00px;top:770.19px;font-size:13.60px;font-weight:normal;color:#5a0a40;transform:scaleX(0.9587)">77%</div>
<div class="t" id="lgt" style="left:2168.36px;top:627.01px;font-size:13.10px;font-weight:normal;color:#1a1a1a;transform:scaleX(1.0444)">Incident Type</div>
<div class="t" id="lg1" style="left:2196.80px;top:650.71px;font-size:10.50px;font-weight:normal;color:#222;transform:scaleX(0.9915)">True Fire</div>
<div class="t" id="lg2" style="left:2196.80px;top:671.41px;font-size:10.50px;font-weight:normal;color:#222;transform:scaleX(0.9864)">False Alarm</div>
</body></html>
